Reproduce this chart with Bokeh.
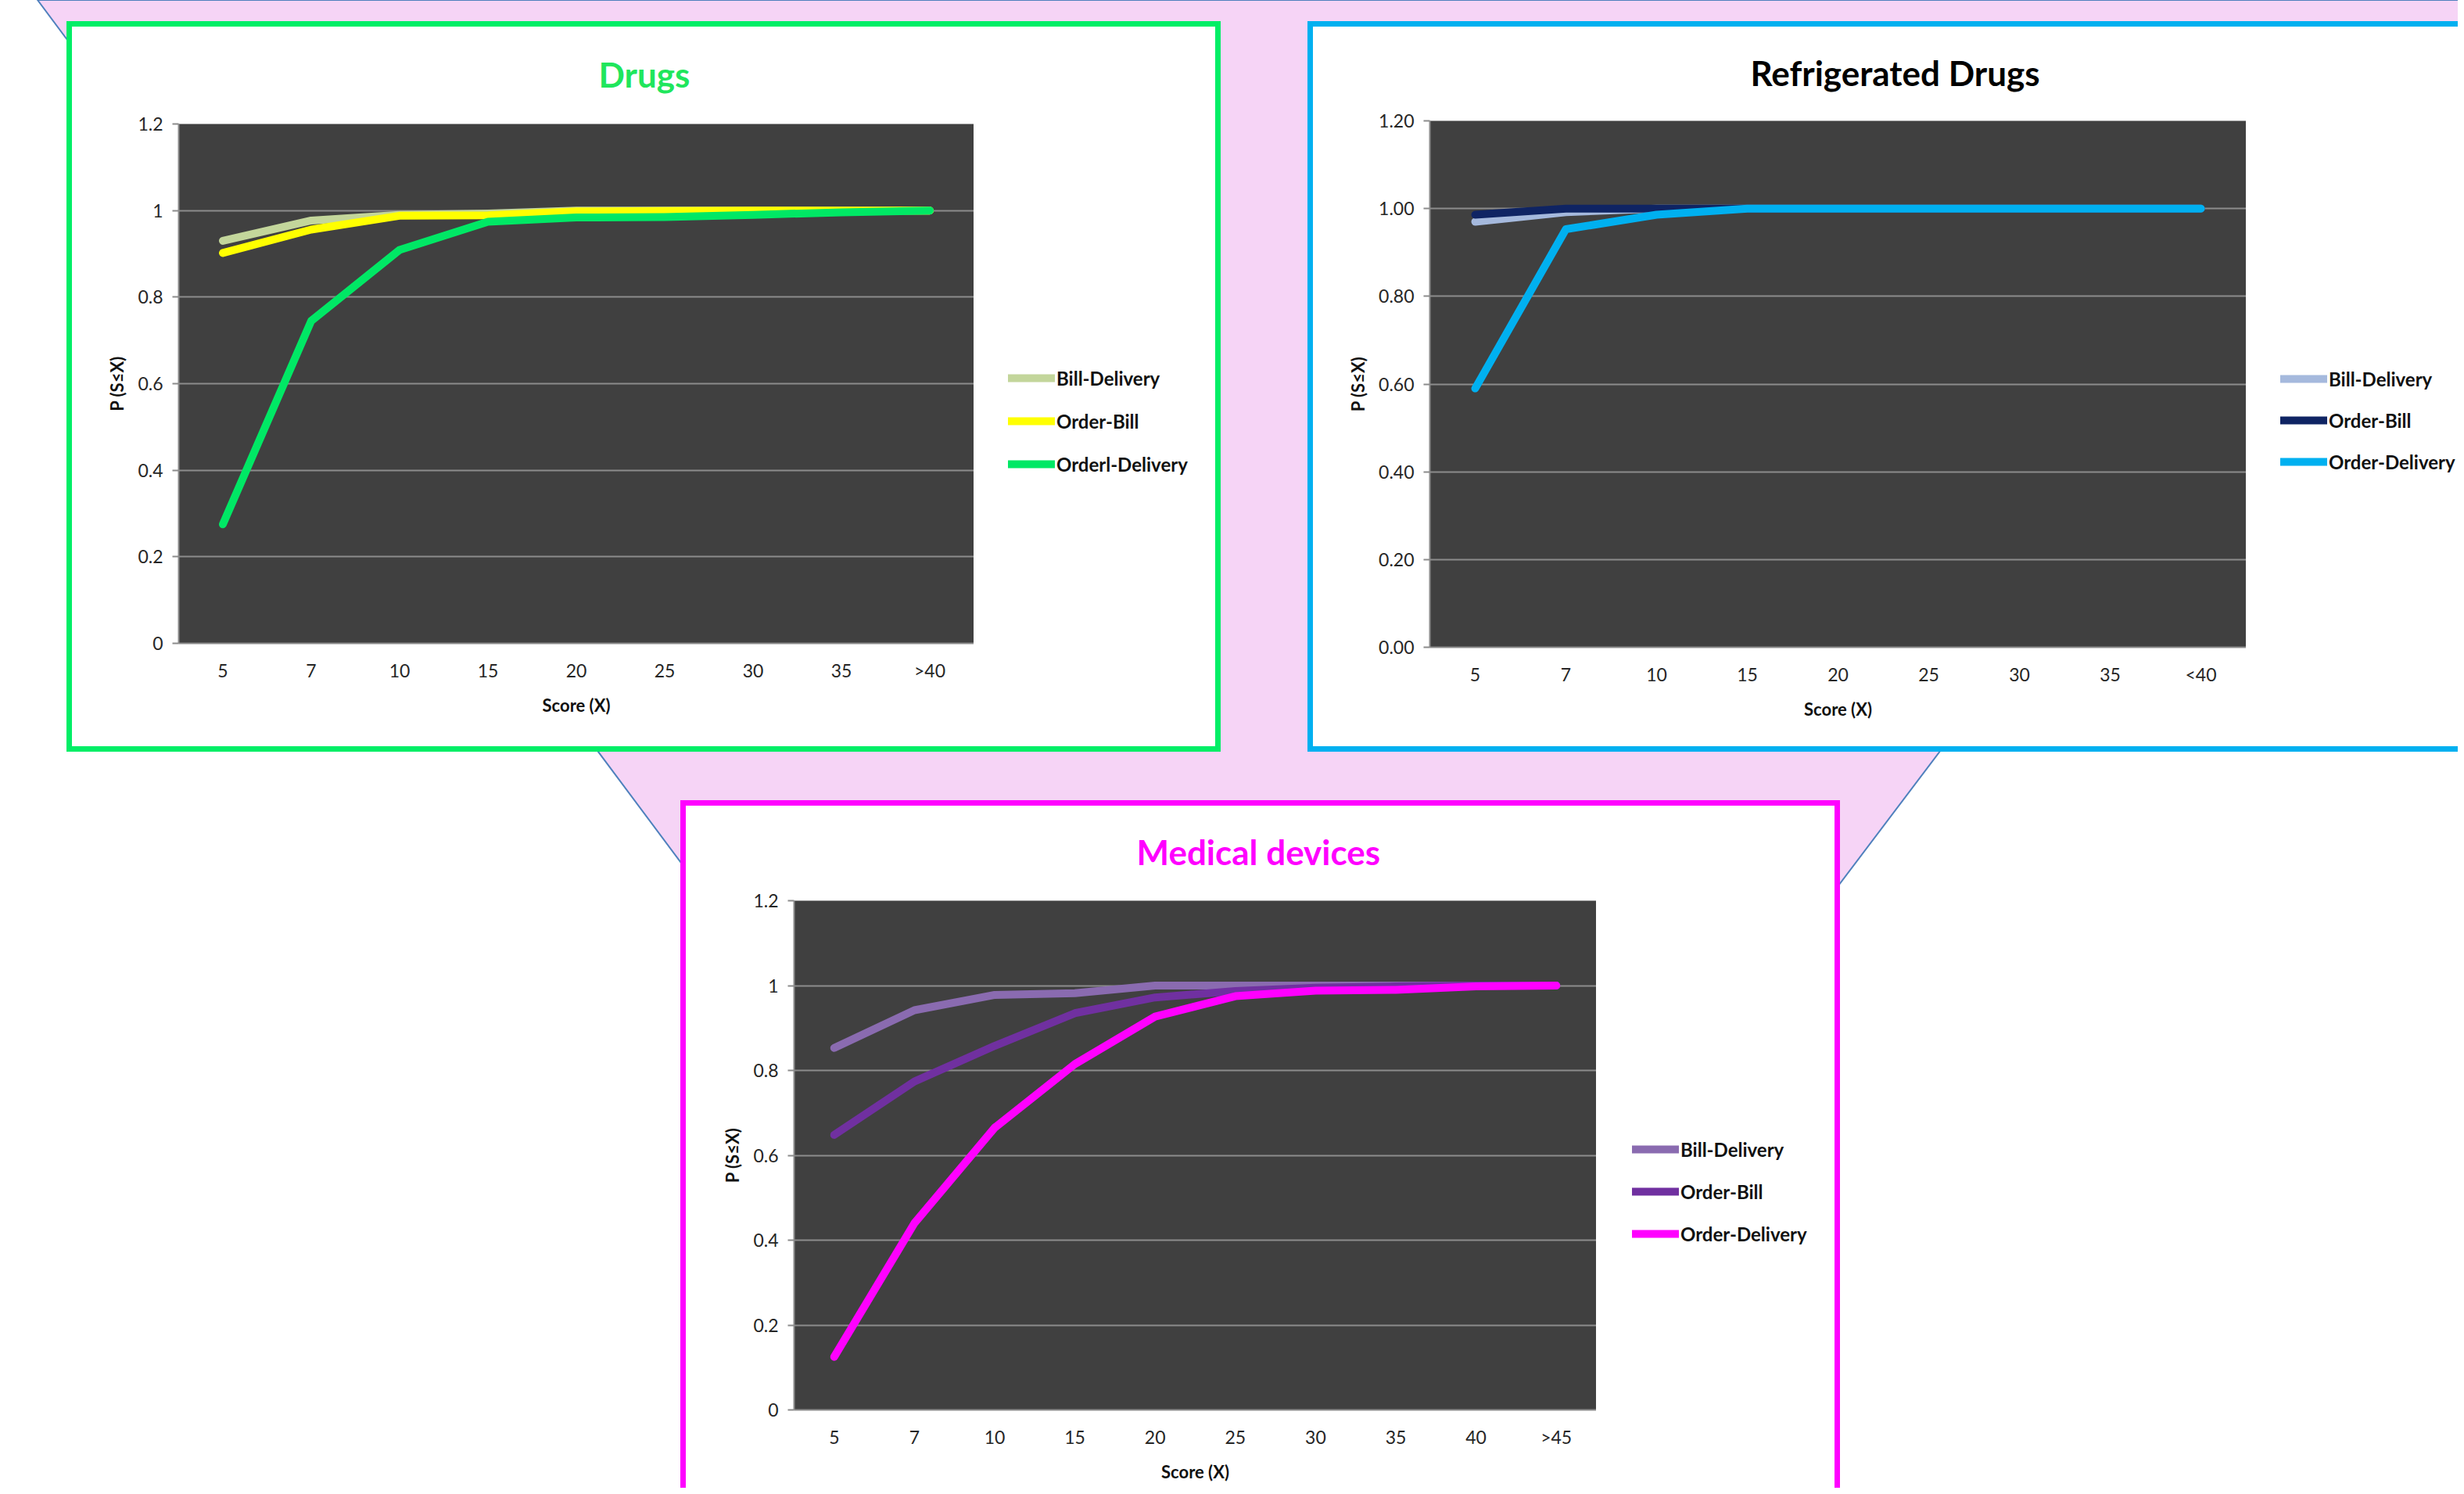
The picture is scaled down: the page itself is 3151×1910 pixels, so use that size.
import base64
from bokeh.plotting import figure
from bokeh.layouts import row, column
from bokeh.models import (Spacer, FactorRange, Range1d, FixedTicker, Legend, LegendItem,
                          Title, PrintfTickFormatter)
from bokeh.embed import file_html
from bokeh.resources import INLINE

# ---------------- data ----------------
drugs_cats = ["5", "7", "10", "15", "20", "25", "30", "35", ">40"]
drugs_bill_delivery = [0.93, 0.977, 0.99, 0.993, 1.0, 1.0, 1.0, 1.0, 1.0]
drugs_order_bill = [0.902, 0.956, 0.988, 0.989, 0.998, 0.999, 1.0, 1.0, 1.0]
drugs_order_delivery = [0.275, 0.745, 0.909, 0.974, 0.984, 0.985, 0.99, 0.996, 1.0]

fridge_cats = ["5", "7", "10", "15", "20", "25", "30", "35", "<40"]
fridge_bill_delivery = [0.97, 0.992, 1.0, 1.0, 1.0, 1.0, 1.0, 1.0, 1.0]
fridge_order_bill = [0.986, 1.0, 1.0, 1.0, 1.0, 1.0, 1.0, 1.0, 1.0]
fridge_order_delivery = [0.59, 0.953, 0.986, 1.0, 1.0, 1.0, 1.0, 1.0, 1.0]

med_cats = ["5", "7", "10", "15", "20", "25", "30", "35", "40", ">45"]
med_bill_delivery = [0.853, 0.942, 0.978, 0.982, 1.0, 1.0, 1.0, 1.0, 1.0, 1.0]
med_order_bill = [0.648, 0.774, 0.858, 0.935, 0.972, 0.987, 0.995, 0.998, 1.0, 1.0]
med_order_delivery = [0.125, 0.44, 0.665, 0.815, 0.927, 0.975, 0.988, 0.99, 0.998, 1.0]

y_ticks = [0, 0.2, 0.4, 0.6, 0.8, 1, 1.2]
y_tick_labels = ["0", "0.2", "0.4", "0.6", "0.8", "1", "1.2"]

FONT = "Lato"
GRID = "#8c8c8c"


def panel(title, title_color, box_color, box_sides, cats, series, frame_w, frame_h,
          mb_left, mb_top, mb_bottom, title_offset, title_standoff,
          legend_w, legend_loc, legend_spacing, fmt_two=False):
    height = mb_top + frame_h + mb_bottom
    p = figure(x_range=FactorRange(factors=cats), y_range=Range1d(0, 1.2),
               frame_width=frame_w, frame_height=frame_h,
               output_backend="svg", toolbar_location=None,
               min_border_left=mb_left, min_border_right=0,
               min_border_top=mb_top, min_border_bottom=mb_bottom)
    p.border_fill_alpha = 0
    p.background_fill_color = "#404040"
    p.outline_line_color = None

    p.add_layout(Title(text=title, align="left", offset=title_offset, text_font=FONT,
                       text_font_size="44px", text_font_style="bold",
                       text_color=title_color, standoff=title_standoff), "above")

    # axes
    for ax in (p.xaxis[0], p.yaxis[0]):
        ax.axis_line_color = GRID
        ax.axis_line_width = 2
        ax.major_label_text_font = FONT
        ax.major_label_text_font_size = "23px"
        ax.major_label_text_color = "#262626"
        ax.axis_label_text_font = FONT
        ax.axis_label_text_font_size = "22px"
        ax.axis_label_text_font_style = "bold"
        ax.axis_label_text_color = "#111111"
        ax.minor_tick_line_color = None
    p.xaxis.axis_label = "Score (X)"
    p.xaxis.major_tick_line_color = None
    p.xaxis.major_label_standoff = 14
    p.xaxis.axis_label_standoff = 14
    p.yaxis.axis_label = "P (S≤X)"
    p.yaxis.ticker = FixedTicker(ticks=y_ticks)
    p.yaxis.major_tick_line_color = GRID
    p.yaxis.major_tick_line_width = 2
    p.yaxis.major_tick_out = 8
    p.yaxis.major_tick_in = 0
    p.yaxis.major_label_standoff = 12
    p.yaxis.axis_label_standoff = 10
    if fmt_two:
        p.yaxis.formatter = PrintfTickFormatter(format="%.2f")
    else:
        p.yaxis.major_label_overrides = {k: v for k, v in zip(y_tick_labels, y_tick_labels)}

    p.xgrid.grid_line_color = None
    p.ygrid.grid_line_color = GRID
    p.ygrid.grid_line_width = 2
    p.ygrid.ticker = FixedTicker(ticks=y_ticks)

    for name, vals, color in series:
        p.line(x=cats, y=vals, line_color=color, line_width=10,
               line_join="round", line_cap="round")

    # legend lives in a narrow companion figure to the right of the plot; its frame is
    # aligned with the main frame, and the series drawn there fall outside its view
    lf = figure(width=legend_w, height=height, x_range=FactorRange(factors=cats),
                y_range=Range1d(10, 11),
                output_backend="svg", toolbar_location=None,
                x_axis_location=None, y_axis_location=None,
                min_border=0, min_border_left=0, min_border_right=0,
                min_border_top=0, min_border_bottom=0)
    lf.border_fill_alpha = 0
    lf.background_fill_alpha = 0
    lf.outline_line_color = None
    lf.grid.grid_line_color = None
    items = []
    for name, vals, color in series:
        r = lf.line(x=cats, y=vals, line_color=color, line_width=10, line_cap="round")
        items.append(LegendItem(label=name, renderers=[r]))
    leg = Legend(items=items, location=legend_loc, padding=0, margin=0,
                 background_fill_alpha=0, border_line_alpha=0,
                 glyph_width=60, glyph_height=30, label_height=30, label_standoff=2,
                 spacing=legend_spacing, label_text_font=FONT, label_text_font_size="24px",
                 label_text_font_style="bold", label_text_color="#111111")
    lf.add_layout(leg)

    box = row(p, lf)
    w = 7
    shadows = []
    if "l" in box_sides:
        shadows.append(f"inset {w}px 0 0 0 {box_color}")
    if "r" in box_sides:
        shadows.append(f"inset -{w}px 0 0 0 {box_color}")
    if "t" in box_sides:
        shadows.append(f"inset 0 {w}px 0 0 {box_color}")
    if "b" in box_sides:
        shadows.append(f"inset 0 -{w}px 0 0 {box_color}")
    box.styles = {"background-color": "white", "box-shadow": ", ".join(shadows)}
    return box


p_drugs = panel("Drugs", "#1fe65c", "#00ee66", "lrtb", drugs_cats,
                [("Bill-Delivery", drugs_bill_delivery, "#c3d69b"),
                 ("Order-Bill", drugs_order_bill, "#ffff00"),
                 ("Orderl-Delivery", drugs_order_delivery, "#00e865")],
                1017, 664, 143, 131, 139, 537, 76, 316, (44, 214), 25)

p_fridge = panel("Refrigerated Drugs", "#000000", "#00b0f0", "ltb", fridge_cats,
                 [("Bill-Delivery", fridge_bill_delivery, "#a5b9dd"),
                  ("Order-Bill", fridge_order_bill, "#0f2463"),
                  ("Order-Delivery", fridge_order_delivery, "#00b0f0")],
                 1044, 673, 156, 127, 134, 410, 72, 271, (44, 222), 23, fmt_two=True)

p_med = panel("Medical devices", "#ff00ff", "#ff00ff", "lrt", med_cats,
              [("Bill-Delivery", med_bill_delivery, "#8a6bb0"),
               ("Order-Bill", med_order_bill, "#7030a0"),
               ("Order-Delivery", med_order_delivery, "#ff00ff")],
              1026, 651, 145, 128, 100, 438, 73, 312, (46, 210), 24)

# background: pink inverted triangle with thin blue edge
svg = ("<svg xmlns='http://www.w3.org/2000/svg' width='3151' height='1910'>"
       "<polygon points='48,0 1617,2103 3207,0' fill='#f6d4f6' stroke='#4f81bd' stroke-width='2'/>"
       "</svg>")
bg = "url(\"data:image/svg+xml;base64," + base64.b64encode(svg.encode()).decode() + "\")"

layout = column(
    Spacer(width=3143, height=27),
    row(Spacer(width=85, height=934), p_drugs, Spacer(width=111, height=934), p_fridge),
    Spacer(width=3143, height=62),
    row(Spacer(width=870, height=879), p_med),
)
layout.styles = {"background-image": bg, "background-repeat": "no-repeat",
                 "background-color": "white"}

open("out.html", "w").write(file_html(layout, INLINE))
